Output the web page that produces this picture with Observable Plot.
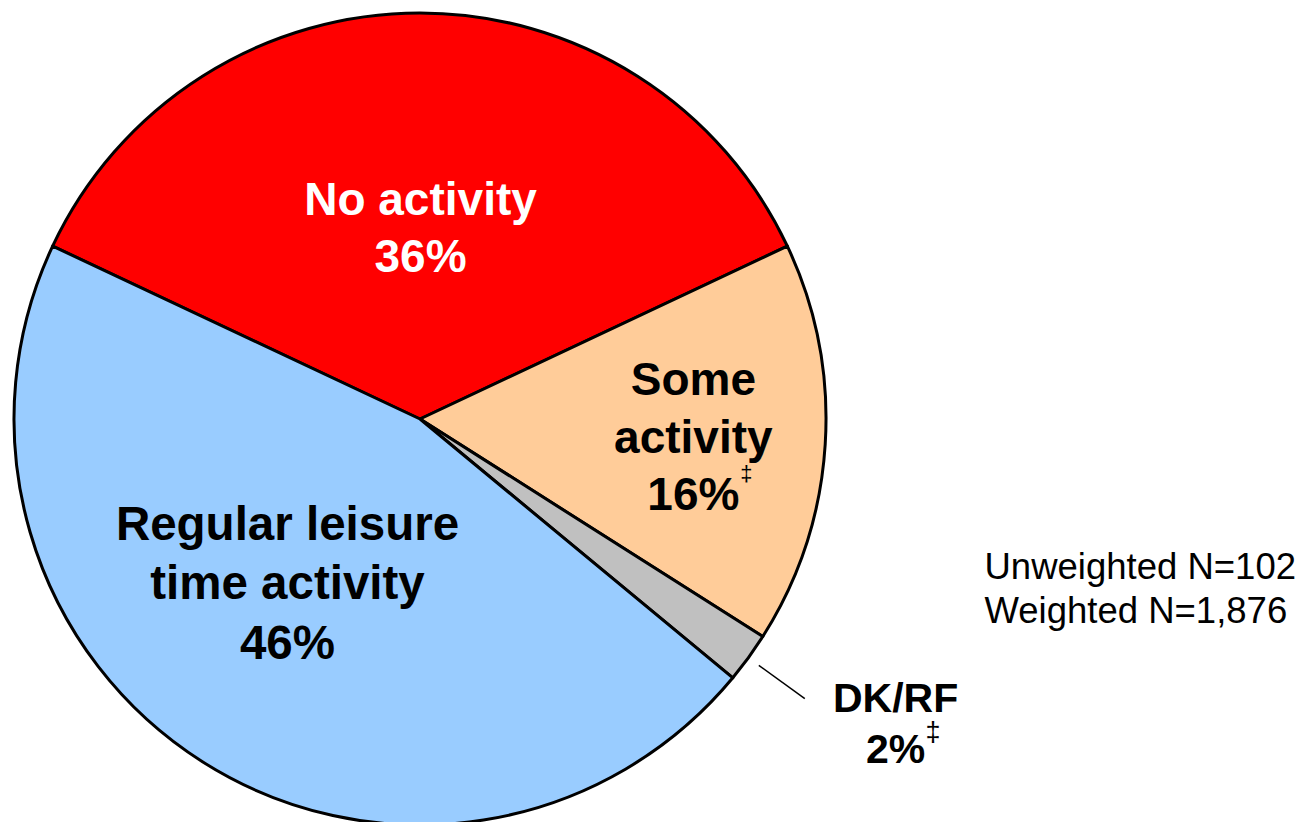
<!DOCTYPE html>
<html>
<head>
<meta charset="utf-8">
<script src="https://cdn.jsdelivr.net/npm/d3@7"></script>
<script src="https://cdn.jsdelivr.net/npm/@observablehq/plot@0.6"></script>
<style>
  html, body { margin: 0; padding: 0; background: #fff; overflow: hidden; }
  #chart svg { display: block; }
</style>
</head>
<body>
<div id="chart"></div>
<script>
// ---- data ----
const categories = ["No activity", "Some activity", "DK/RF", "Regular leisure time activity"];
const labels = ["No activity\n36%", "Some\nactivity\n16%", "DK/RF\n2%", "Regular leisure\ntime activity\n46%"];
const percents = [36, 16, 2, 46];
const footnoteMarks = ["", "‡", "‡", ""];
const sampleNote = ["Unweighted N=102", "Weighted N=1,876"];

// ---- styling / layout (not data) ----
const sliceColors = ["#FF0000", "#FFCC99", "#C0C0C0", "#99CCFF"];
const labelColors = ["#FFFFFF", "#000000", "#000000", "#000000"];
const labelSizes = [46, 46, 41, 47.5];
const labelRadius = [0.479, 0.673, 1.386, 0.514];   // in pie radii
const labelAngleShift = [0, -0.5, -3.6, 7.2];       // degrees from slice middle
const supSizes = [0, 22, 27, 0];
const supDx = [0, 47, 30, 0];
const supDy = [0, 40, 11, 0];

const W = 1305, H = 822;
const cxPx = 420, cyPx = 419, Rpx = 406;

const total = d3.sum(percents);
const startAngle = -(percents[0] / total) * Math.PI;
const pie = d3.pie().sort(null).value(d => d.value)
  .startAngle(startAngle).endAngle(startAngle + 2 * Math.PI);
const table = categories.map((c, i) => ({
  category: c, label: labels[i], value: percents[i], sup: footnoteMarks[i], i
}));
const arcs = pie(table);

const colorScale = Plot.scale({color: {type: "ordinal", domain: categories, range: sliceColors}});

const labelRows = arcs.map(a => {
  const i = a.data.i;
  const mid = (a.startAngle + a.endAngle) / 2 + labelAngleShift[i] * Math.PI / 180;
  const r = labelRadius[i];
  return {...a.data, mid, x: r * Math.sin(mid), y: r * Math.cos(mid)};
});
const dk = arcs[2];
const dkMid = (dk.startAngle + dk.endAngle) / 2;
const leader = [{
  x1: 1.03 * Math.sin(dkMid), y1: 1.03 * Math.cos(dkMid),
  x2: 1.17 * Math.sin(dkMid), y2: 1.17 * Math.cos(dkMid)
}];

function pieSlices(index, scales, values, dimensions) {
  let sx = scales && scales.x, sy = scales && scales.y;
  const cx = sx ? sx(0) : cxPx, cy = sy ? sy(0) : cyPx;
  const R = sx ? Math.abs(sx(1) - sx(0)) : Rpx;
  const g = d3.create("svg:g").attr("transform", `translate(${cx},${cy})`);
  const arc = d3.arc().innerRadius(0).outerRadius(R);
  g.selectAll("path").data(arcs).join("path")
    .attr("d", arc)
    .attr("fill", d => colorScale.apply(d.data.category))
    .attr("stroke", "#000")
    .attr("stroke-width", 3)
    .attr("stroke-linejoin", "round");
  return g.node();
}

const font = "'Liberation Sans', Arial, Helvetica, sans-serif";

const textMarks = labelRows.map(d => Plot.text([d], {
  x: "x", y: "y", text: "label",
  fill: labelColors[d.i], fontSize: labelSizes[d.i], fontWeight: "bold",
  fontFamily: font, lineHeight: 1.25, textAnchor: "middle", lineAnchor: "middle"
}));
const supMarks = labelRows.filter(d => d.sup).map(d => Plot.text([d], {
  x: "x", y: "y", text: "sup",
  fill: labelColors[d.i], fontSize: supSizes[d.i], fontFamily: font,
  textAnchor: "start", lineAnchor: "middle", dx: supDx[d.i], dy: supDy[d.i]
}));

const chart = Plot.plot({
  width: W, height: H,
  margin: 0,
  x: {domain: [-cxPx / Rpx, (W - cxPx) / Rpx], axis: null},
  y: {domain: [-(H - cyPx) / Rpx, cyPx / Rpx], axis: null},
  style: {background: "#fff", fontFamily: font},
  marks: [
    pieSlices,
    Plot.link(leader, {x1: "x1", y1: "y1", x2: "x2", y2: "y2", stroke: "#000", strokeWidth: 1.5}),
    ...textMarks,
    ...supMarks,
    Plot.text([sampleNote.join("\n")], {
      x: (984 - cxPx) / Rpx, y: (cyPx - 586) / Rpx, text: d => d,
      fontSize: 36.5, fontFamily: font, fill: "#000",
      textAnchor: "start", lineAnchor: "middle", lineHeight: 1.205
    })
  ]
});
document.getElementById("chart").appendChild(chart);
</script>
</body>
</html>
